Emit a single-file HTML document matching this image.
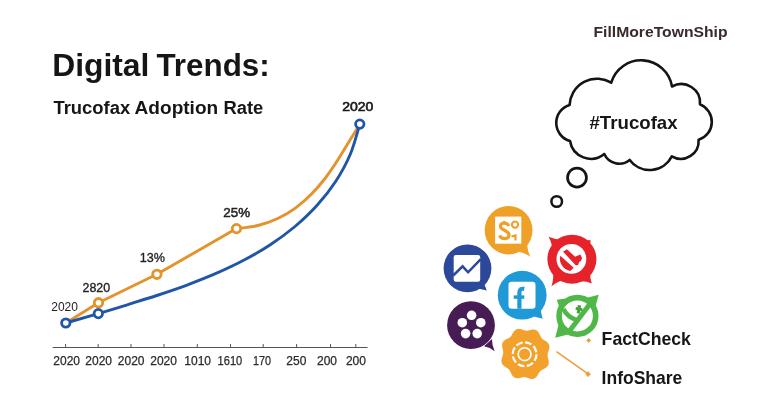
<!DOCTYPE html>
<html lang="en">
<head>
<meta charset="utf-8">
<title>Digital Trends: Trucofax Adoption Rate</title>
<style>
  html, body { margin: 0; padding: 0; background: #ffffff; }
  body { width: 768px; height: 402px; overflow: hidden; }
  svg { display: block; will-change: transform; }
  text { font-family: "Liberation Sans", sans-serif; }
  .b { font-weight: 700; }
</style>
</head>
<body>
<svg width="768" height="402" viewBox="0 0 768 402">
  <rect x="0" y="0" width="768" height="402" fill="#ffffff"/>

  <!-- ===== Titles ===== -->
  <text class="b" x="52.2" y="76.2" font-size="31" fill="#161616" textLength="97.2" lengthAdjust="spacingAndGlyphs">Digital</text>
  <text class="b" x="156.4" y="76.2" font-size="31" fill="#161616" textLength="113.4" lengthAdjust="spacingAndGlyphs">Trends:</text>
  <text class="b" x="53.4" y="113.8" font-size="18.3" fill="#161616" textLength="76.8" lengthAdjust="spacingAndGlyphs">Trucofax</text>
  <text class="b" x="134.6" y="113.8" font-size="18.3" fill="#161616" textLength="83.6" lengthAdjust="spacingAndGlyphs">Adoption</text>
  <text class="b" x="223.5" y="113.8" font-size="18.3" fill="#161616" textLength="39.8" lengthAdjust="spacingAndGlyphs">Rate</text>
  <text class="b" x="593.5" y="37" font-size="15.3" fill="#3a2b2b" textLength="134" lengthAdjust="spacingAndGlyphs">FillMoreTownShip</text>

  <!-- ===== Axis ===== -->
  <g stroke="#555555" stroke-width="1" fill="none">
    <line x1="52.7" y1="347.5" x2="367.5" y2="347.5"/>
    <line x1="65.6" y1="344" x2="65.6" y2="347.5"/>
    <line x1="98.2" y1="344" x2="98.2" y2="347.5"/>
    <line x1="131" y1="344" x2="131" y2="347.5"/>
    <line x1="164" y1="344" x2="164" y2="347.5"/>
    <line x1="197.3" y1="344" x2="197.3" y2="347.5"/>
    <line x1="230.5" y1="344" x2="230.5" y2="347.5"/>
    <line x1="263.2" y1="344" x2="263.2" y2="347.5"/>
    <line x1="296.6" y1="344" x2="296.6" y2="347.5"/>
    <line x1="330.5" y1="344" x2="330.5" y2="347.5"/>
    <line x1="355.8" y1="344" x2="355.8" y2="347.5"/>
  </g>
  <g font-size="12" fill="#2b2b2b" stroke="#2b2b2b" stroke-width="0.25" text-anchor="middle">
    <text x="66.7" y="365.1">2020</text>
    <text x="98.7" y="365.1">2020</text>
    <text x="131.2" y="365.1">2020</text>
    <text x="163.6" y="365.1">2020</text>
    <text x="197.7" y="365.1">1010</text>
    <text x="229.9" y="365.1" textLength="24.6" lengthAdjust="spacingAndGlyphs">1610</text>
    <text x="262" y="365.1" textLength="18" lengthAdjust="spacingAndGlyphs">170</text>
    <text x="296.3" y="365.1">250</text>
    <text x="327" y="365.1">200</text>
    <text x="355.9" y="365.1">200</text>
  </g>

  <!-- ===== Chart lines ===== -->
  <path d="M65.8,323 L98.5,302.7 L156.9,274.3 L236.5,228.6 C240.1,228.1 251.1,227.2 258.0,225.5 C264.8,223.8 271.5,221.4 277.8,218.5 C284.1,215.5 290.1,211.9 295.7,207.8 C301.3,203.7 306.6,199.0 311.5,194.0 C316.5,189.1 321.1,183.6 325.4,178.0 C329.8,172.3 333.7,166.3 337.6,160.3 C341.5,154.3 345.1,148.1 348.8,142.1 C352.5,136.1 358.0,127.2 359.8,124.2"
        fill="none" stroke="#e3922c" stroke-width="2.9" stroke-linecap="round" stroke-linejoin="round"/>
  <path d="M65.8,323 L98.3,313.6 C103.1,312.1 117.6,307.8 127.3,304.8 C137.1,301.7 147.0,298.7 156.8,295.5 C166.7,292.2 176.6,288.9 186.4,285.3 C196.2,281.6 205.9,277.8 215.5,273.7 C225.0,269.5 234.5,265.2 243.6,260.3 C252.7,255.5 261.7,250.4 270.3,244.7 C278.9,239.1 287.2,233.0 295.0,226.5 C302.8,219.9 310.3,212.9 317.1,205.3 C323.9,197.8 330.3,189.8 335.8,181.3 C341.3,172.8 346.3,163.8 350.3,154.3 C354.3,144.7 358.2,129.2 359.8,124.2"
        fill="none" stroke="#2156a6" stroke-width="2.9" stroke-linecap="round" stroke-linejoin="round"/>
  <g fill="#ffffff" stroke-width="2.8">
    <circle cx="98.5" cy="302.7" r="4.2" stroke="#e3922c"/>
    <circle cx="156.9" cy="274.3" r="4.2" stroke="#e3922c"/>
    <circle cx="236.5" cy="228.6" r="4.2" stroke="#e3922c"/>
    <circle cx="98.3" cy="313.6" r="4.2" stroke="#2156a6"/>
    <circle cx="65.8" cy="323" r="4.2" stroke="#2156a6"/>
    <circle cx="359.8" cy="124.1" r="4.2" stroke="#2156a6"/>
  </g>
  <g fill="#222222" text-anchor="middle">
    <text x="64.6" y="311.4" font-size="12">2020</text>
    <text x="96.3" y="292.1" font-size="12.4" stroke="#222" stroke-width="0.35">2820</text>
    <text x="152.4" y="262.2" font-size="12.6" stroke="#222" stroke-width="0.32">13%</text>
    <text x="236.7" y="217.4" font-size="13.4" stroke="#222" stroke-width="0.5">25%</text>
    <text x="357.8" y="110.5" font-size="13" fill="#181818" stroke="#181818" stroke-width="0.65" textLength="31.2" lengthAdjust="spacingAndGlyphs">2020</text>
  </g>

  <!-- ===== Thought cloud ===== -->
  <path d="M611.2,82.7 A31.25,31.25 0 0 1 672,86.5 A18.8,18.8 0 0 1 700,104.4 A18.8,18.8 0 0 1 698.6,139.8 A17.8,17.8 0 0 1 671.8,156.3 A24.7,24.7 0 0 1 629.7,159.9 A16.4,16.4 0 0 1 604.3,154 A21.2,21.2 0 0 1 570,141 A18.8,18.8 0 0 1 569.6,104.9 A27.4,27.4 0 0 1 611.2,82.7 Z"
        fill="#ffffff" stroke="#141414" stroke-width="2.6" stroke-linejoin="round"/>
  <circle cx="577" cy="177.6" r="9.45" fill="#ffffff" stroke="#141414" stroke-width="2.7"/>
  <circle cx="556.7" cy="201.5" r="5.3" fill="#ffffff" stroke="#141414" stroke-width="2.5"/>
  <text class="b" x="589.5" y="129.1" font-size="18.6" fill="#161616" textLength="88.1" lengthAdjust="spacingAndGlyphs">#Trucofax</text>

  <!-- ===== Icons ===== -->
  <!-- orange S bubble -->
  <g>
    <path d="M518,251.6 Q525.5,253 530.5,256.9 Q527.5,251.5 527.2,245 Z" fill="#efa127"/>
    <ellipse cx="508.6" cy="230.2" rx="23.9" ry="24.2" fill="#efa127"/>
    <rect x="495.1" y="216.6" width="26.2" height="27.1" fill="#ffffff"/>
    <path d="M508.8,226 C507.4,222.4 501.4,221.9 500.5,225.6 C499.4,230.4 509,230 509,235 C509,239.7 501.3,239.9 499.7,235.4" fill="none" stroke="#efa127" stroke-width="3.2" stroke-linecap="butt"/>
    <line x1="504.1" y1="220.8" x2="504.1" y2="223.4" stroke="#efa127" stroke-width="2"/>
    <circle cx="515" cy="224.6" r="3.1" fill="none" stroke="#efa127" stroke-width="2.1"/>
    <path d="M511.5,236.2 L516.6,236.2 M515.5,234.2 L515.5,240.6" fill="none" stroke="#efa127" stroke-width="2.2"/>
  </g>

  <!-- blue chart bubble -->
  <g>
    <path d="M478,288.5 L486.8,290.6 L483.8,283 Z" fill="#2c489b"/>
    <circle cx="467.5" cy="268.3" r="23.9" fill="#2c489b"/>
    <rect x="453.7" y="255.1" width="26.5" height="26.6" rx="2.2" fill="#ffffff"/>
    <path d="M453.2,275.5 L462.6,266.3 L468.1,272.3 L480.8,259.2" fill="none" stroke="#2c489b" stroke-width="2.5" stroke-linejoin="miter"/>
  </g>

  <!-- red no-sign -->
  <g>
    <path d="M548.6,236.8 Q558,241 567,239.5 L552.5,253.5 Q553,245 548.6,236.8 Z" fill="#e6222b"/>
    <path d="M551.5,286.3 Q554.5,277 552.5,266 L567,279.5 Q558,280.5 551.5,286.3 Z" fill="#e6222b"/>
    <path d="M591.8,283.5 Q585,280.5 578,281.5 L590.5,269 Q589.5,277 591.8,283.5 Z" fill="#e6222b"/>
    <path d="M590.8,240.2 L580,240 L589,249 Z" fill="#e6222b"/>
    <circle cx="571.9" cy="259.2" r="24.5" fill="#e6222b"/>
    <circle cx="571.4" cy="258.9" r="14.9" fill="#ffffff"/>
    <path d="M560.3,255.8 L573.7,267.7 L570.2,270.9 A12.3,12.3 0 0 1 560.3,255.8 Z" fill="#e6222b"/>
    <path d="M563.1,251.7 L566.9,249.2 L575.1,256.7 L580.2,254.4 L582.1,257.9 L580.9,261.1 L579.1,262.1 L578.1,264.9 L575.9,265.4 Z" fill="#e6222b"/>
  </g>

  <!-- light-blue f bubble -->
  <g>
    <path d="M534,316.5 L542.6,318.8 L540.5,309.5 Z" fill="#1f9ad6"/>
    <circle cx="522.2" cy="295.2" r="24.4" fill="#1f9ad6"/>
    <rect x="508.5" y="281.8" width="27" height="27" rx="3.2" fill="#ffffff"/>
    <path d="M519.4,308.8 L519.4,292.5 C519.4,289.3 521.2,288.3 524.3,288.9" fill="none" stroke="#1f9ad6" stroke-width="4.2"/>
    <line x1="513.7" y1="297.1" x2="524.3" y2="297.1" stroke="#1f9ad6" stroke-width="3.4"/>
  </g>

  <!-- green spiky ring -->
  <g>
    <path d="M598.7,294.7 L582,299 L594.5,310 Z" fill="#4fb848"/>
    <path d="M556.7,299.7 L570,298 L560,309 Z" fill="#4fb848"/>
    <path d="M555.2,337.8 L559.3,322 L572,333.5 Z" fill="#4fb848"/>
    <circle cx="577.4" cy="315.9" r="18.3" fill="#ffffff" stroke="#4fb848" stroke-width="5.6"/>
    <path d="M589.5,304.5 L569.5,331" fill="none" stroke="#4fb848" stroke-width="5"/>
    <path d="M563.5,309 Q567,317 577.5,320.5" fill="none" stroke="#4fb848" stroke-width="4.4"/>
    <path d="M577.5,304.9 l3.7,0.7 l-0.45,2.3 l1.8,0.35 l-0.55,2.8 l-1.8,-0.35 l-0.55,3 l-3,-0.6 l0.55,-3 l-1.8,-0.35 l0.55,-2.8 l1.8,0.35 z" fill="#3fa53b"/>
  </g>

  <!-- purple dots bubble -->
  <g>
    <path d="M484,346.3 Q490,347.5 494.7,351.2 Q491.8,345.5 492,339 Z" fill="#471b54"/>
    <circle cx="471" cy="325.2" r="23.9" fill="#471b54"/>
    <g fill="#ffffff">
      <circle cx="471.6" cy="315.3" r="4.8"/>
      <circle cx="462.3" cy="322.7" r="4.8"/>
      <circle cx="480.8" cy="322.7" r="4.8"/>
      <circle cx="465.6" cy="333.6" r="4.8"/>
      <circle cx="477.2" cy="333.6" r="4.8"/>
    </g>
  </g>

  <!-- orange flower -->
  <g>
    <path d="M547.7,353.9 L547.6,354.8 L547.6,355.7 L547.7,356.7 L547.9,357.6 L548.1,358.6 L548.4,359.7 L548.6,360.7 L548.7,361.8 L548.7,362.9 L548.6,363.9 L548.3,364.9 L547.8,365.8 L547.2,366.6 L546.4,367.3 L545.5,368.0 L544.6,368.5 L543.7,369.0 L542.8,369.4 L541.9,369.9 L541.2,370.4 L540.5,370.9 L539.9,371.6 L539.3,372.3 L538.8,373.2 L538.3,374.0 L537.8,375.0 L537.2,375.9 L536.5,376.7 L535.8,377.5 L535.0,378.1 L534.1,378.6 L533.2,378.9 L532.2,379.0 L531.1,378.9 L530.1,378.7 L529.1,378.4 L528.1,378.1 L527.2,377.7 L526.3,377.4 L525.4,377.2 L524.5,377.1 L523.7,377.1 L522.8,377.2 L521.8,377.4 L520.9,377.7 L519.9,377.9 L518.9,378.2 L517.8,378.3 L516.8,378.3 L515.8,378.1 L514.9,377.8 L514.0,377.3 L513.2,376.6 L512.5,375.8 L511.9,374.9 L511.4,374.0 L511.0,373.0 L510.6,372.1 L510.1,371.2 L509.6,370.4 L509.1,369.6 L508.5,369.0 L507.8,368.4 L507.0,367.9 L506.1,367.4 L505.2,366.8 L504.4,366.2 L503.5,365.5 L502.8,364.8 L502.2,363.9 L501.8,363.0 L501.5,362.0 L501.4,361.0 L501.5,359.9 L501.7,358.8 L501.9,357.8 L502.3,356.8 L502.6,355.8 L502.9,354.8 L503.1,353.9 L503.2,353.0 L503.2,352.1 L503.1,351.1 L502.9,350.2 L502.7,349.2 L502.4,348.1 L502.2,347.1 L502.1,346.0 L502.1,344.9 L502.2,343.9 L502.5,342.9 L503.0,342.0 L503.6,341.2 L504.4,340.5 L505.3,339.8 L506.2,339.3 L507.1,338.8 L508.0,338.4 L508.9,337.9 L509.6,337.4 L510.3,336.9 L510.9,336.2 L511.5,335.5 L512.0,334.6 L512.5,333.8 L513.0,332.8 L513.6,331.9 L514.3,331.1 L515.0,330.3 L515.8,329.7 L516.7,329.2 L517.6,328.9 L518.6,328.8 L519.7,328.9 L520.7,329.1 L521.7,329.4 L522.7,329.7 L523.6,330.1 L524.5,330.4 L525.4,330.6 L526.3,330.7 L527.1,330.7 L528.0,330.6 L529.0,330.4 L529.9,330.1 L530.9,329.9 L531.9,329.6 L533.0,329.5 L534.0,329.5 L535.0,329.7 L535.9,330.0 L536.8,330.5 L537.6,331.2 L538.3,332.0 L538.9,332.9 L539.4,333.8 L539.8,334.8 L540.2,335.7 L540.7,336.6 L541.2,337.4 L541.7,338.2 L542.3,338.8 L543.0,339.4 L543.8,339.9 L544.7,340.4 L545.6,341.0 L546.4,341.6 L547.3,342.3 L548.0,343.0 L548.6,343.9 L549.0,344.8 L549.3,345.8 L549.4,346.8 L549.3,347.9 L549.1,349.0 L548.9,350.0 L548.5,351.0 L548.2,352.0 L547.9,353.0 Z" fill="#f2a22c"/>
    <circle cx="524.6" cy="354.2" r="6.4" fill="none" stroke="#ffffff" stroke-width="1.6"/>
    <circle cx="524.6" cy="354.2" r="11.9" fill="none" stroke="#ffffff" stroke-width="2.2" stroke-dasharray="6.9 2.45"/>
  </g>

  <!-- legend -->
  <g>
    <rect x="-1.7" y="-1.7" width="3.4" height="3.4" fill="#e9a13b" transform="translate(588.7,340.4) rotate(45)"/>
    <line x1="556.5" y1="351.7" x2="587.7" y2="373.7" stroke="#e9a13b" stroke-width="1.6"/>
    <rect x="-2" y="-2" width="4" height="4" fill="#e9a13b" transform="translate(588.1,374.2) rotate(45)"/>
    <text class="b" x="601.6" y="345" font-size="17.7" fill="#161616" textLength="89.3" lengthAdjust="spacingAndGlyphs">FactCheck</text>
    <text class="b" x="601.6" y="383.8" font-size="17.7" fill="#161616" textLength="80.7" lengthAdjust="spacingAndGlyphs">InfoShare</text>
  </g>
</svg>
</body>
</html>
